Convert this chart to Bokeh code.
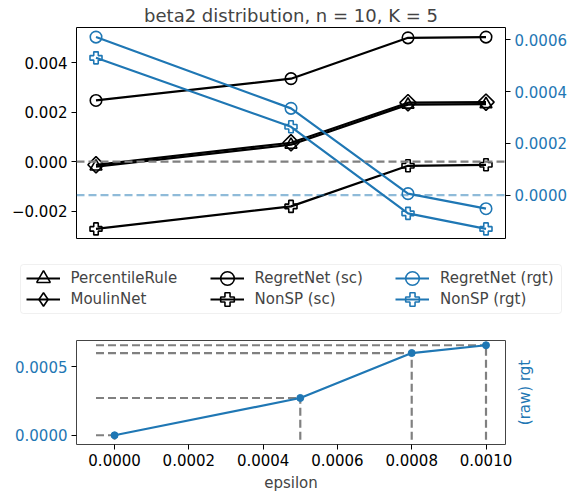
import math
import numpy as np
from bokeh.plotting import figure
from bokeh.layouts import row
from bokeh.models import (Range1d, LinearAxis, FixedTicker, CustomJSTickFormatter, Span,
                          Legend, LegendItem, BoxAnnotation, Title)
from bokeh.embed import file_html
from bokeh.resources import INLINE

# ---------------- data ----------------
title_text = "beta2 distribution, n = 10, K = 5"
epsilon = [0.0, 0.0005, 0.0008, 0.001]
percentile_sc = [-0.00020, 0.00068, 0.00230, 0.00232]
moulin_sc = [-0.00013, 0.00076, 0.00238, 0.00240]
regretnet_sc = [0.00247, 0.00335, 0.00500, 0.00503]
nonsp_sc = [-0.00272, -0.00181, -0.00017, -0.00013]
regretnet_rgt = [0.000610, 0.000335, 0.0000060, -0.0000520]
nonsp_rgt = [0.000530, 0.000264, -0.0000700, -0.000130]
raw_rgt = [0.0, 0.000272, 0.000600, 0.000657]

left_ticks = [-0.002, 0.0, 0.002, 0.004]
right_ticks = [0.0, 0.0002, 0.0004, 0.0006]
bottom_y_ticks = [0.0, 0.0005]
bottom_x_ticks = [0.0, 0.0002, 0.0004, 0.0006, 0.0008, 0.001]

legend_cols = [["PercentileRule", "MoulinNet"],
               ["RegretNet (sc)", "NonSP (sc)"],
               ["RegretNet (rgt)", "NonSP (rgt)"]]

# ---------------- styles / layout ----------------
BLUE = "#1f77b4"
BLACK = "#000000"
FONT = "DejaVu Sans"
FS = "15px"
W = 569
BL, BR = 76, 64


def fmt(dec):
    return CustomJSTickFormatter(code="""
        const v = Math.abs(tick) < 1e-12 ? 0 : tick;
        return v.toFixed(%d).replace('-', '\\u2212');
    """ % dec)


def pad(lo, hi, m=0.05):
    s = hi - lo
    return lo - m * s, hi + m * s


def style_axis(ax, color="black", label_color="black"):
    ax.axis_line_color = None
    ax.major_tick_line_color = color
    ax.major_tick_in = 0
    ax.major_tick_out = 5
    ax.minor_tick_line_color = None
    ax.major_label_standoff = 4
    ax.major_label_text_font = FONT
    ax.major_label_text_font_size = FS
    ax.major_label_text_color = label_color
    ax.axis_label_text_font = FONT
    ax.axis_label_text_font_size = FS
    ax.axis_label_text_font_style = "normal"


eps = np.array(epsilon)
x0, x1 = pad(eps.min(), eps.max())

sc_all = np.concatenate([percentile_sc, moulin_sc, regretnet_sc, nonsp_sc])
rgt_all = np.concatenate([regretnet_rgt, nonsp_rgt, [0.0]])
yl0, yl1 = pad(sc_all.min(), sc_all.max())
yr0, yr1 = pad(rgt_all.min(), rgt_all.max())

# name, values, colour, plot marker, size, angle, y-range, legend marker
series = [
    ("PercentileRule", percentile_sc, BLACK, "triangle", 12, 0.0, "default", "triangle"),
    ("MoulinNet", moulin_sc, BLACK, "square", 11.5, math.pi / 4, "default", "diamond"),
    ("RegretNet (sc)", regretnet_sc, BLACK, "circle", 11.5, 0.0, "default", "circle"),
    ("NonSP (sc)", nonsp_sc, BLACK, "plus", 12, 0.0, "default", "plus"),
    ("RegretNet (rgt)", regretnet_rgt, BLUE, "circle", 11.5, 0.0, "rgt", "circle"),
    ("NonSP (rgt)", nonsp_rgt, BLUE, "plus", 12, 0.0, "rgt", "plus"),
]

# ---------------- top figure ----------------
p1 = figure(width=W, height=250, x_range=Range1d(x0, x1), y_range=Range1d(yl0, yl1),
            x_axis_location=None, toolbar_location=None, output_backend="svg",
            min_border_left=BL, min_border_right=BR, min_border_top=27,
            min_border_bottom=12)
p1.extra_y_ranges = {"rgt": Range1d(yr0, yr1)}
p1.grid.visible = False
p1.outline_line_color = "black"
p1.outline_line_width = 1
p1.title.text = title_text
p1.title.text_font = FONT
p1.title.text_font_size = "18px"
p1.title.text_font_style = "normal"
p1.title.align = "center"
p1.title.standoff = 3
p1.title.offset = 0

ly = p1.yaxis[0]
ly.ticker = FixedTicker(ticks=left_ticks)
ly.formatter = fmt(3)
style_axis(ly)

ry = LinearAxis(y_range_name="rgt", ticker=FixedTicker(ticks=right_ticks), formatter=fmt(4))
style_axis(ry, color="black", label_color=BLUE)
p1.add_layout(ry, "right")

p1.add_layout(Span(location=0, dimension="width", line_color="#808080", line_width=2.2,
                   line_dash="8 4"))
p1.add_layout(Span(location=0, dimension="width", y_range_name="rgt", line_color=BLUE,
                   line_alpha=0.5, line_width=2.2, line_dash="8 4"))

for name, vals, col, mk, sz, ang, rng, lmk in series:
    p1.line(epsilon, vals, line_color=col, line_width=2.2, y_range_name=rng)
    p1.scatter(epsilon, vals, marker=mk, size=sz, angle=ang, line_color=col,
               line_width=1.6, fill_color=None, y_range_name=rng)

# ---------------- legend figure (own root, canvas == frame, units == pixels) ----------------
HL = 89
pl = figure(width=W, height=HL, x_range=Range1d(0, W), y_range=Range1d(0, HL),
            x_axis_location=None, y_axis_location=None, toolbar_location=None,
            output_backend="svg", min_border_left=0, min_border_right=0,
            min_border_top=0, min_border_bottom=0)
pl.outline_line_color = None
pl.grid.visible = False
pl.extra_x_ranges = {"d": Range1d(x0, x1)}
pl.extra_y_ranges = {"d": Range1d(yl0, yl1), "rgt": Range1d(yr0, yr1)}

box = BoxAnnotation(left=20, right=561, bottom=26, top=75, fill_color="white",
                    fill_alpha=0.8, line_color="#cccccc", line_width=1)
try:
    box.border_radius = 3
except Exception:
    pass
pl.add_layout(box)

leg_renderers = {}
for name, vals, col, mk, sz, ang, rng, lmk in series:
    yr = "d" if rng == "default" else "rgt"
    rl = pl.line(epsilon, vals, line_color=col, line_width=2.2, x_range_name="d",
                 y_range_name=yr, visible=False)
    rs = pl.scatter(epsilon, vals, marker=lmk, size=sz, line_color=col,
                    line_width=1.6, fill_color=None, x_range_name="d", y_range_name=yr,
                    visible=False)
    leg_renderers[name] = [rl, rs]

col_x = [25.5, 209.5, 395]
row_bottom = [44, 23]
for cx, names in zip(col_x, legend_cols):
    for ry_b, nm in zip(row_bottom, names):
        leg = Legend(items=[LegendItem(label=nm, renderers=leg_renderers[nm])],
                     location=(cx, ry_b), orientation="vertical", glyph_width=34,
                     glyph_height=34, spacing=0, padding=0, margin=0, label_standoff=11,
                     label_text_font=FONT, label_text_font_size=FS,
                     border_line_color=None, background_fill_alpha=0,
                     inactive_fill_alpha=0)
        pl.add_layout(leg)

# ---------------- bottom figure ----------------
hx0 = eps.min() - 0.05 * (eps.max() - eps.min())
bx0, bx1 = pad(hx0, eps.max())
raw = np.array(raw_rgt)
vy0 = -0.05 * raw.max()
by0, by1 = pad(vy0, raw.max())

W2 = 513
p2 = figure(width=W2, height=155, x_range=Range1d(bx0, bx1), y_range=Range1d(by0, by1),
            toolbar_location=None, output_backend="svg",
            min_border_left=BL, min_border_right=W2 - 505, min_border_top=1,
            min_border_bottom=49)
p2.grid.visible = False
p2.outline_line_color = "#444444"
p2.outline_line_width = 1

bxa = p2.xaxis[0]
bxa.ticker = FixedTicker(ticks=bottom_x_ticks)
bxa.formatter = fmt(4)
style_axis(bxa)
bxa.axis_label = "epsilon"
bxa.axis_label_standoff = 5

bya = p2.yaxis[0]
bya.ticker = FixedTicker(ticks=bottom_y_ticks)
bya.formatter = fmt(4)
style_axis(bya, color="black", label_color=BLUE)

p2.segment(x0=[hx0] * len(epsilon), y0=raw_rgt, x1=epsilon, y1=raw_rgt,
           line_color="#808080", line_width=2.2, line_dash="8 4")
p2.segment(x0=epsilon, y0=[vy0] * len(epsilon), x1=epsilon, y1=raw_rgt,
           line_color="#808080", line_width=2.2, line_dash="8 4")
p2.line(epsilon, raw_rgt, line_color=BLUE, line_width=2.2)
p2.scatter(epsilon, raw_rgt, marker="circle", size=7, fill_color=BLUE, line_color=BLUE)

# right-hand label of the bottom panel (title in the left panel of a slim figure)
plab = figure(width=W - W2, height=155, toolbar_location=None, output_backend="svg",
              x_axis_location=None, y_axis_location=None, min_border_left=0,
              min_border_right=0, min_border_top=1, min_border_bottom=49)
plab.outline_line_color = None
plab.grid.visible = False
plab.add_layout(Title(text="(raw) rgt", align="center", text_font=FONT, text_font_size=FS,
                      text_font_style="normal", text_color=BLUE, standoff=0, offset=0),
                "left")

open("out.html", "w").write(file_html([p1, pl, row(p2, plab, spacing=0)], INLINE))
